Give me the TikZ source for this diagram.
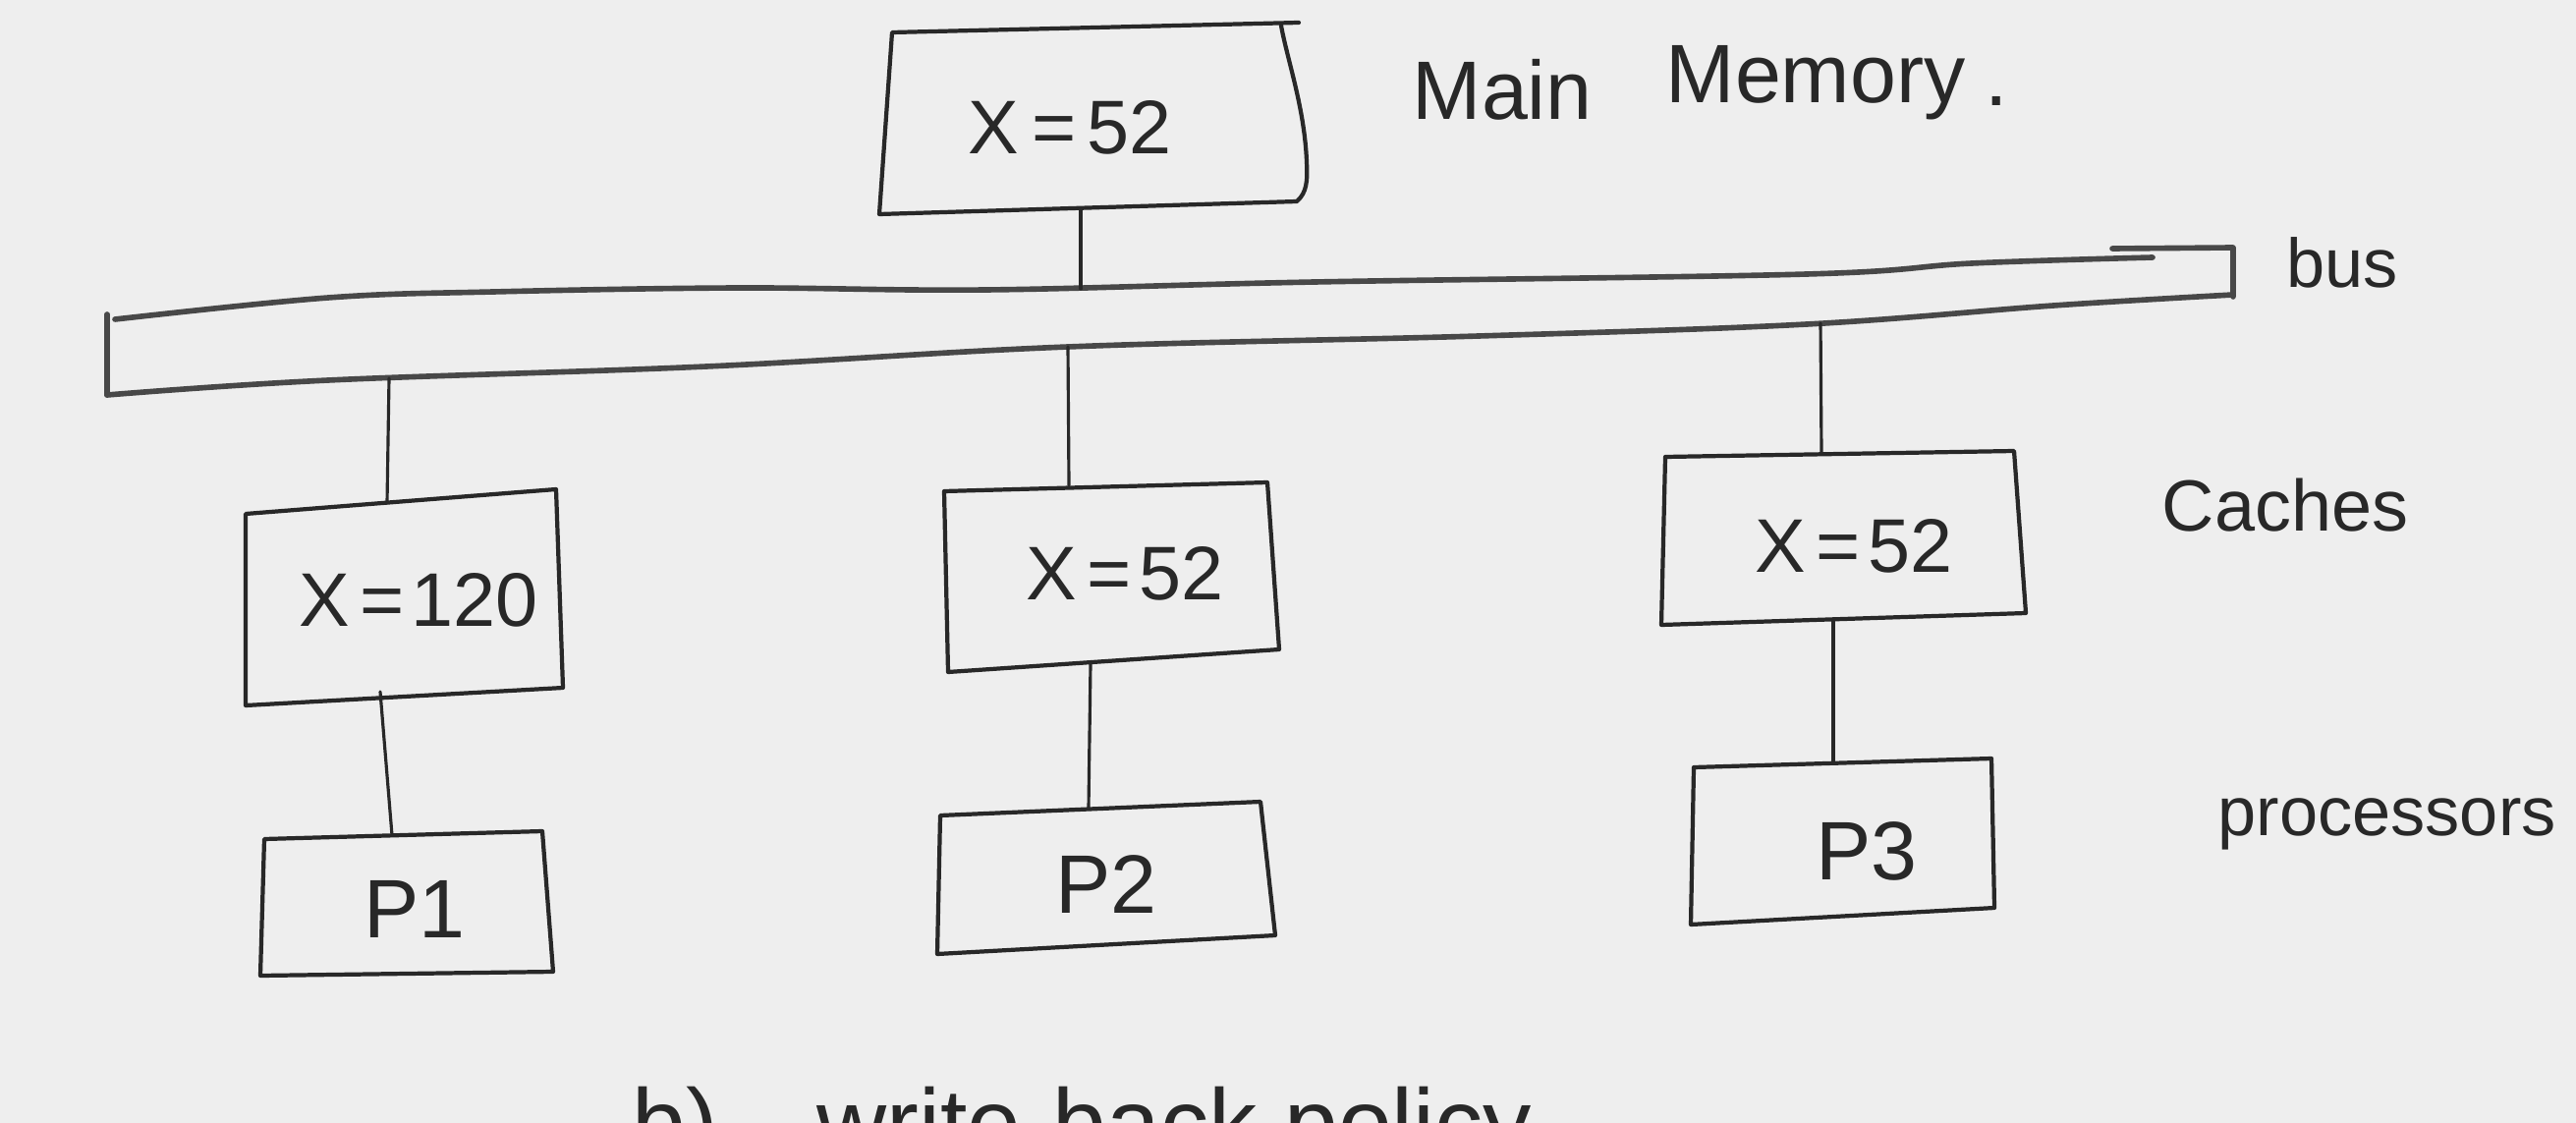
\documentclass[tikz,border=0pt]{standalone}
\usepackage{fontspec}
\setmainfont{Liberation Sans}
\definecolor{paper}{RGB}{238,238,238}
\definecolor{ink}{RGB}{40,40,40}
\begin{document}
\begin{tikzpicture}[x=0.01cm,y=-0.01cm,line join=round,line cap=round,
  box/.style={draw=ink,line width=1.2pt},
  wire/.style={draw=ink,line width=0.9pt},
  busline/.style={draw=ink!85,line width=1.6pt},
  lab/.style={text=ink,inner sep=0pt,font=\fontsize{22pt}{26pt}\selectfont},
  plab/.style={text=ink,inner sep=0pt,font=\fontsize{24pt}{28pt}\selectfont},
  side/.style={text=ink,inner sep=0pt,anchor=base west,font=\fontsize{21pt}{25pt}\selectfont}]
\fill[paper] (0,0) rectangle (2622,1143);
\useasboundingbox (0,0) rectangle (2622,1143);

% main memory
\draw[box] (1322,23) -- (908,33) -- (895,218) -- (1320,205)
  .. controls (1330,196) and (1331,185) .. (1330,165)
  .. controls (1328,110) and (1310,60) .. (1304,26);
\node[lab] (mem) at (1089,130) {X\kern4pt=\kern3pt52};
\node[side,font=\fontsize{24pt}{28pt}\selectfont] (memlab) at (1437,122) {Main\hspace{0.75cm}\raisebox{5pt}{Memory}\hspace{0.2cm}\raisebox{4pt}{.}};

% bus
\draw[busline] plot[smooth,tension=0.6] coordinates {(117,325) (334,303) (502,297) (752,293) (1003,295) (1338,287) (1839,279) (2007,268) (2191,262)};
\draw[busline] plot[smooth,tension=0.6] coordinates {(109,402) (334,387) (719,373) (1087,353) (1505,342) (1839,330) (2090,311) (2273,300)};
\draw[busline] (109,320) -- (109,402);
\draw[busline] (2150,253) -- (2273,252) -- (2273,302);
\node[side,font=\fontsize{20pt}{24pt}\selectfont] (buslab) at (2327,293) {bus};

% caches
\draw[box] (250,523) -- (566,498) -- (573,700) -- (250,718) -- cycle;
\draw[box] (961,500) -- (1290,491) -- (1302,661) -- (965,684) -- cycle;
\draw[box] (1695,465) -- (2050,459) -- (2062,624) -- (1691,636) -- cycle;
\node[lab] (c1) at (426,611) {X\kern3pt=\kern2pt120};
\node[lab] (c2) at (1145,584) {X\kern3pt=\kern2pt52};
\node[lab] (c3) at (1887,556) {X\kern3pt=\kern2pt52};
\node[side] (cachelab) at (2200,540) {Caches};

% processors
\draw[box] (269,854) -- (552,846) -- (563,989) -- (265,993) -- cycle;
\draw[box] (957,830) -- (1283,816) -- (1298,952) -- (954,971) -- cycle;
\draw[box] (1724,781) -- (2027,772) -- (2030,924) -- (1721,941) -- cycle;
\node[plab] (p1) at (422,925) {P1};
\node[plab] (p2) at (1126,900) {P2};
\node[plab] (p3) at (1900,866) {P3};
\node[side,font=\fontsize{20pt}{24pt}\selectfont] (proclab) at (2257,850) {processors};

% connector end points
\coordinate (memB) at (1100,212);
\coordinate (busT) at (1100,294);
\coordinate (bus1) at (396,385);
\coordinate (bus2) at (1087,353);
\coordinate (bus3) at (1853,329);
\coordinate (c1T) at (394,512);
\coordinate (c2T) at (1088,494);
\coordinate (c3T) at (1854,462);
\coordinate (c1B) at (387,704);
\coordinate (c2B) at (1110,675);
\coordinate (c3B) at (1866,630);
\coordinate (p1T) at (399,850);
\coordinate (p2T) at (1108,822);
\coordinate (p3T) at (1866,776);

\draw[wire] (memB) -- (busT);
\draw[wire] (bus1) -- (c1T);
\draw[wire] (bus2) -- (c2T);
\draw[wire] (bus3) -- (c3T);
\draw[wire] (c1B) -- (p1T);
\draw[wire] (c2B) -- (p2T);
\draw[wire] (c3B) -- (p3T);

% caption, cut off at the lower edge as in the reference
\node[side,font=\fontsize{28pt}{32pt}\selectfont] (caption) at (643,1177) {b)\hspace{1cm}write-back policy};
\end{tikzpicture}
\end{document}
